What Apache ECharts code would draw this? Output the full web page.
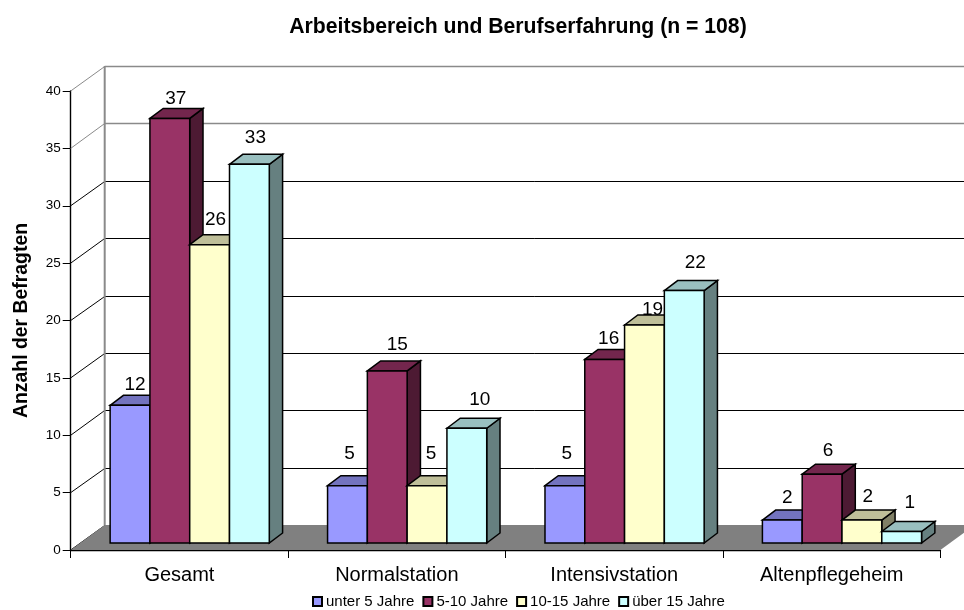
<!DOCTYPE html>
<html>
<head>
<meta charset="utf-8">
<style>
  html, body { margin: 0; padding: 0; background: #fff; }
  #chart { width: 964px; height: 610px; }
</style>
<script src="https://cdn.jsdelivr.net/npm/echarts@6/dist/echarts.min.js"></script>
</head>
<body>
<div id="chart"></div>
<script>
const categories = ['Gesamt', 'Normalstation', 'Intensivstation', 'Altenpflegeheim'];
const seriesNames = ['unter 5 Jahre', '5-10 Jahre', '10-15 Jahre', 'über 15 Jahre'];
const under5 = [12, 5, 5, 2];
const from5to10 = [37, 15, 16, 6];
const from10to15 = [26, 5, 19, 2];
const over15 = [33, 10, 22, 1];
const seriesValues = [under5, from5to10, from10to15, over15];
const yTicks = [0, 5, 10, 15, 20, 25, 30, 35, 40];

const frontColors = ['#9999ff', '#993366', '#ffffcc', '#ccffff'];
const topColors = ['#7373bf', '#73264d', '#bfbf99', '#99bfbf'];
const sideColors = ['#4d4d80', '#4d1a33', '#808066', '#668080'];

// excel puts the 3d data labels a bit unevenly, [dx, dy] from the bar's top front centre
const labelNudge = [
  [[5, -21], [2, -32], [2, -32], [5, -22]],
  [[6, -20], [10, -26], [4, -21], [6, -23]],
  [[6, -25], [4, -32], [8, -15], [6, -23]],
  [[6, -27], [13, -28], [11, -28], [8, -29]]
];

// 3d box geometry in px
const WALL_DX = 34, WALL_DY = -25;
const BAR_DX = 13.3, BAR_DY = -10;
const FLOOR_DX = 10.3, FLOOR_DY = -7;
const BAR_SHARE = 0.183;

const STROKE = { stroke: '#000', lineWidth: 1.5, lineJoin: 'miter' };

function renderWall(params, api) {
  const v = api.value(0);
  const cs = params.coordSys;
  const y = api.coord([0, v])[1];
  const left = cs.x;
  const right = cs.x + cs.width + WALL_DX;
  const backY = Math.round(y + WALL_DY) + 0.5;
  const grey = v >= 35;
  const colour = grey ? '#8a8a8a' : '#000';
  return {
    type: 'group',
    children: [
      { type: 'line', shape: { x1: left, y1: y, x2: left + WALL_DX, y2: backY }, style: { stroke: colour, lineWidth: 1 } },
      { type: 'line', shape: { x1: left + WALL_DX, y1: backY, x2: right, y2: backY }, style: { stroke: colour, lineWidth: grey ? 1.5 : 1 } }
    ]
  };
}

function renderFloor(params, api) {
  const cs = params.coordSys;
  const y0 = api.coord([0, 0])[1];
  const y40 = api.coord([0, 40])[1];
  const l = cs.x, r = cs.x + cs.width;
  return {
    type: 'group',
    children: [
      { type: 'line', shape: { x1: l + WALL_DX, y1: y40 + WALL_DY, x2: l + WALL_DX, y2: y0 + WALL_DY }, style: { stroke: '#8a8a8a', lineWidth: 2 } },
      {
        type: 'polygon',
        shape: { points: [[l, y0], [l + WALL_DX, y0 + WALL_DY], [r + WALL_DX, y0 + WALL_DY], [r, y0]] },
        style: { fill: '#808080' }
      }
    ]
  };
}

function makeBarRenderer(s) {
  return function (params, api) {
    const c = api.value(0);
    const v = api.value(1);
    const band = api.size([1, 0])[0];
    const w = band * BAR_SHARE;
    const x = api.coord([c, 0])[0] + FLOOR_DX + (s - 2) * w;
    const yBase = api.coord([c, 0])[1] + FLOOR_DY;
    const yTop = api.coord([c, v])[1] + FLOOR_DY;
    const nudge = labelNudge[s][c];
    return {
      type: 'group',
      children: [
        {
          type: 'polygon',
          shape: { points: [[x + w, yTop], [x + w + BAR_DX, yTop + BAR_DY], [x + w + BAR_DX, yBase + BAR_DY], [x + w, yBase]] },
          style: { fill: sideColors[s], ...STROKE }
        },
        {
          type: 'polygon',
          shape: { points: [[x, yTop], [x + BAR_DX, yTop + BAR_DY], [x + w + BAR_DX, yTop + BAR_DY], [x + w, yTop]] },
          style: { fill: topColors[s], ...STROKE }
        },
        {
          type: 'rect',
          shape: { x: x, y: yTop, width: w, height: yBase - yTop },
          style: { fill: frontColors[s], ...STROKE }
        },
        {
          type: 'text',
          style: {
            text: String(v),
            x: x + w / 2 + nudge[0],
            y: yTop + nudge[1],
            align: 'center',
            verticalAlign: 'middle',
            fontFamily: '"Liberation Sans", Arial, sans-serif',
            fontSize: 19,
            fill: '#000'
          }
        }
      ]
    };
  };
}

const chart = echarts.init(document.getElementById('chart'), null, { renderer: 'canvas' });

chart.setOption({
  animation: false,
  backgroundColor: '#fff',
  textStyle: { fontFamily: '"Liberation Sans", Arial, sans-serif', color: '#000' },
  title: {
    text: 'Arbeitsbereich und Berufserfahrung (n = 108)',
    left: 513,
    top: 12,
    textAlign: 'center',
    textStyle: { fontSize: 21.2, fontWeight: 'bold', color: '#000', fontFamily: '"Liberation Sans", Arial, sans-serif' }
  },
  legend: {
    data: seriesNames,
    left: 307,
    top: 589,
    itemWidth: 9,
    itemHeight: 9,
    itemGap: 8,
    icon: 'rect',
    textStyle: { fontSize: 15, padding: [0, 0, 0, -1], color: '#000' }
  },
  grid: { left: 70.7, right: 23.6, top: 91, height: 459, containLabel: false },
  xAxis: {
    type: 'category',
    data: categories,
    axisLine: { lineStyle: { color: '#000', width: 1.4 } },
    axisTick: { show: true, length: 8, lineStyle: { color: '#000' } },
    axisLabel: { fontSize: 20, color: '#000', margin: 15 },
    splitLine: { show: false }
  },
  yAxis: {
    type: 'value',
    min: 0,
    max: 40,
    interval: 5,
    name: 'Anzahl der Befragten',
    nameLocation: 'middle',
    nameRotate: 90,
    nameGap: 40,
    nameTextStyle: { fontSize: 19.4, fontWeight: 'bold', color: '#000' },
    axisLine: { show: true, lineStyle: { color: '#000', width: 1.4 } },
    axisTick: { show: true, length: 8, lineStyle: { color: '#000' } },
    axisLabel: { fontSize: 13.5, color: '#000', margin: 10 },
    splitLine: { show: false }
  },
  series: [
    {
      type: 'custom',
      name: 'wall',
      silent: true,
      clip: false,
      data: yTicks.map((t) => [t]),
      encode: { y: 0 },
      renderItem: renderWall
    },
    {
      type: 'custom',
      name: 'floor',
      silent: true,
      clip: false,
      data: [[0]],
      encode: { y: 0 },
      renderItem: renderFloor
    },
    ...seriesNames.map((name, s) => ({
      type: 'custom',
      name: name,
      clip: false,
      itemStyle: { color: frontColors[s], borderColor: '#000', borderWidth: 1.4 },
      data: seriesValues[s].map((v, c) => [c, v]),
      encode: { x: 0, y: 1 },
      renderItem: makeBarRenderer(s)
    }))
  ]
});
</script>
</body>
</html>
